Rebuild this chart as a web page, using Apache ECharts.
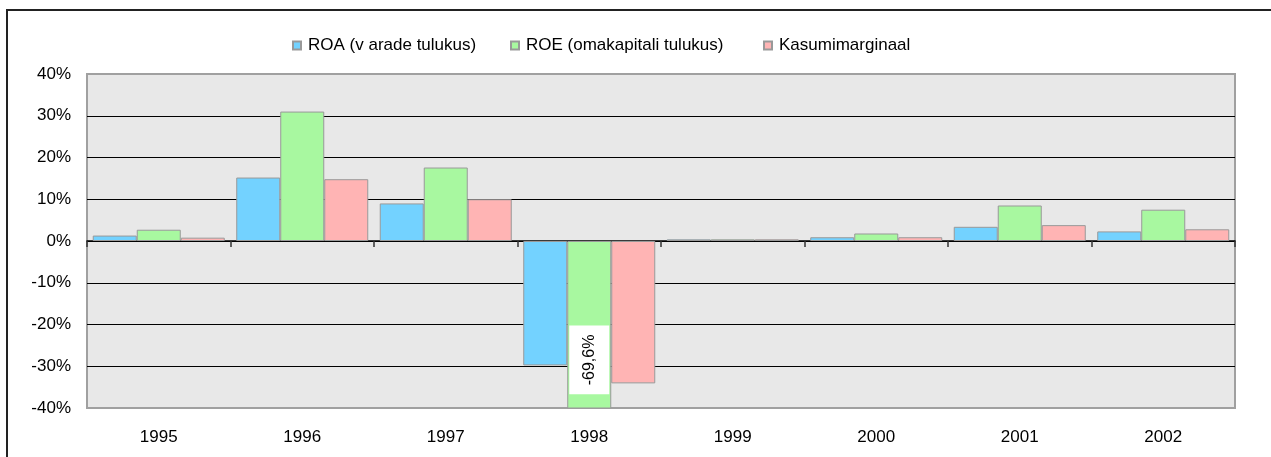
<!DOCTYPE html>
<html lang="et">

<head>
    <meta charset="UTF-8">
    <title>ROA, ROE, Kasumimarginaal</title>
    <script src="https://cdn.jsdelivr.net/npm/echarts@6.0.0/dist/echarts.min.js"></script>
    <style>
        html, body { margin: 0; padding: 0; background: #fff; }
    </style>
</head>

<body>
    <div id="main" style="width: 1271px;height:457px;"></div>
    <script type="text/javascript">
        // years on the x axis
        const years = ['1995', '1996', '1997', '1998', '1999', '2000', '2001', '2002'];

        // series names as in the legend
        const seriesNames = ['ROA (v arade tulukus)', 'ROE (omakapitali tulukus)', 'Kasumimarginaal'];

        // values in percent
        const roa = [1.3, 15.2, 9.0, -29.8, 0.4, 0.9, 3.4, 2.3];
        const roe = [2.7, 31.0, 17.6, -69.6, 0.4, 1.8, 8.5, 7.5];
        const margin = [0.8, 14.8, 10.0, -34.1, 0.4, 0.9, 3.8, 2.8];

        // y axis ticks
        const yMin = -40;
        const yMax = 40;
        const yStep = 10;

        const colors = ['#73D2FF', '#A8F8A0', '#FFB4B4'];
        const font = 'Liberation Sans, Arial, sans-serif';
        const fontSize = 17;

        // values below the axis minimum get a value label (bar is cut off)
        function withOverflowLabels(values) {
            return values.map(v => {
                if (v >= yMin) return v;
                return {
                    value: v,
                    label: {
                        show: true,
                        position: ['50%', '71%'],
                        align: 'center',
                        verticalAlign: 'middle',
                        rotate: 90,
                        backgroundColor: '#fff',
                        padding: [12, 9],
                        color: '#000',
                        fontFamily: font,
                        fontSize: 16,
                        formatter: p => p.value.toFixed(1).replace('.', ',') + '%'
                    }
                };
            });
        }

        const allValues = [roa, roe, margin];

        // one legend per item so each sits where it does in the picture
        // (legend has 5px padding of its own)
        const legendLeft = [287, 505, 758];

        let options = {
            animation: false,
            color: colors,
            textStyle: { fontFamily: font },
            graphic: [{
                type: 'rect',
                shape: { x: 7, y: 10, width: 1400, height: 600 },
                style: { fill: 'none', stroke: '#222', lineWidth: 2 },
                silent: true
            }],
            legend: seriesNames.map((name, i) => ({
                data: [name],
                left: legendLeft[i],
                top: 32,
                itemWidth: 8,
                itemHeight: 8,
                icon: 'rect',
                textStyle: { fontFamily: font, fontSize: fontSize, color: '#000', padding: [0, 0, 0, 2] }
            })),
            grid: {
                left: 87,
                right: 36,
                top: 74,
                height: 334,
                show: true,
                backgroundColor: '#E8E8E8',
                borderColor: '#A0A0A0',
                borderWidth: 2
            },
            xAxis: [{
                type: 'category',
                data: years,
                axisLine: { onZero: true, lineStyle: { color: '#000', width: 1.5 } },
                axisTick: { show: true, length: 6, lineStyle: { color: '#333', width: 1.5 } },
                axisLabel: { show: false }
            }, {
                type: 'category',
                data: years,
                position: 'bottom',
                axisLine: { show: false },
                axisTick: { show: false },
                axisLabel: { margin: 21, color: '#000', fontFamily: font, fontSize: fontSize }
            }],
            yAxis: {
                type: 'value',
                min: yMin,
                max: yMax,
                interval: yStep,
                axisLine: { show: false },
                axisTick: { show: false },
                axisLabel: {
                    margin: 16,
                    color: '#000',
                    fontFamily: font,
                    fontSize: fontSize,
                    formatter: '{value}%'
                },
                splitLine: {
                    show: true,
                    lineStyle: {
                        color: ['#A0A0A0', '#000', '#000', '#000', '#000', '#000', '#000', '#000', '#A0A0A0'],
                        width: 1
                    }
                }
            },
            series: seriesNames.map((name, i) => ({
                name: name,
                type: 'bar',
                xAxisIndex: 0,
                barGap: '0%',
                barCategoryGap: '8%',
                clip: true,
                itemStyle: { color: colors[i], borderColor: '#999', borderWidth: 1 },
                data: withOverflowLabels(allValues[i])
            }))
        };

        let myChart = echarts.init(document.getElementById('main'));
        myChart.setOption(options);
    </script>
</body>

</html>
